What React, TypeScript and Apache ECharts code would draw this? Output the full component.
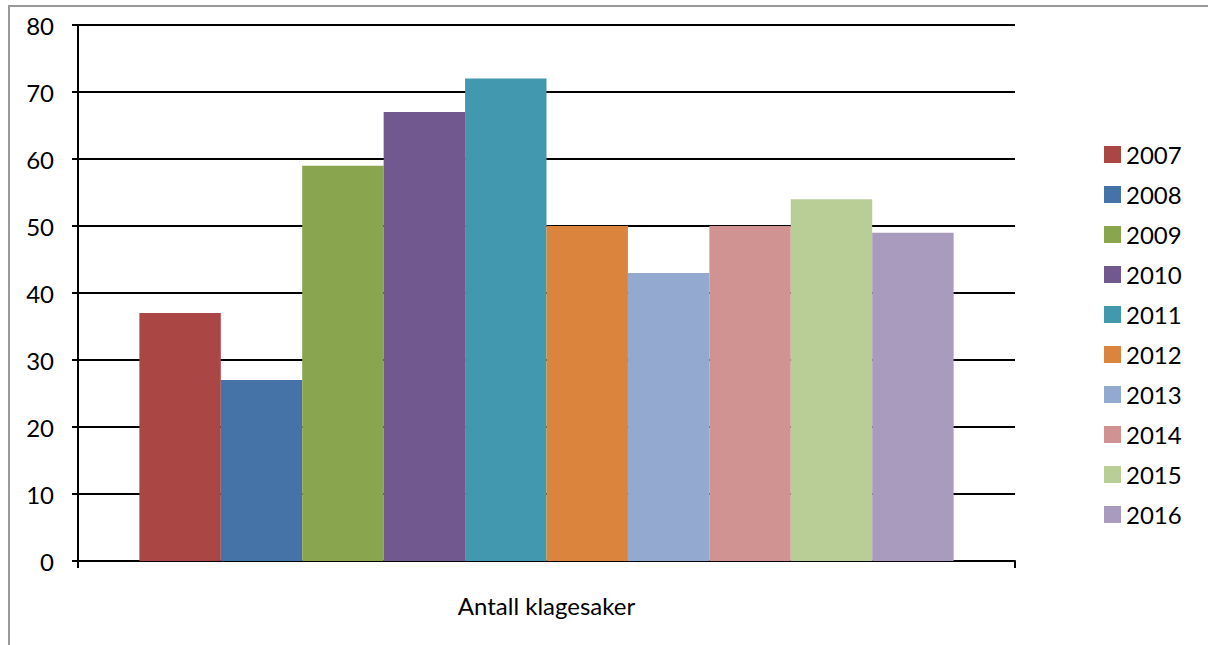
import React, { useEffect, useRef } from "react";
import * as echarts from "echarts";

const categories = ["Antall klagesaker"];
const years = ["2007", "2008", "2009", "2010", "2011", "2012", "2013", "2014", "2015", "2016"];
const values = [37, 27, 59, 67, 72, 50, 43, 50, 54, 49];
const colors = ["#AA4643", "#4572A7", "#89A54E", "#71588F", "#4198AF", "#DB843D", "#93A9CF", "#D19392", "#B9CD96", "#A99BBD"];
const yTicks = { min: 0, max: 80, interval: 10 };

const FONT = "Lato, 'Open Sans', sans-serif";

export default function App() {
  const ref = useRef<HTMLDivElement>(null);
  useEffect(() => {
    if (!ref.current) return;
    const chart = echarts.init(ref.current, undefined, { renderer: "svg" });
    chart.setOption({
      animation: false,
      backgroundColor: "#ffffff",
      textStyle: { fontFamily: FONT },
      graphic: [
        {
          type: "rect",
          shape: { x: 9, y: 6, width: 1400, height: 900 },
          style: { fill: "none", stroke: "#999999", lineWidth: 2 },
          silent: true,
        },
      ],
      grid: { left: 78, top: 25, right: 193, bottom: 84, containLabel: false },
      legend: {
        orient: "vertical",
        left: 1099,
        top: 137.5,
        itemWidth: 17,
        itemHeight: 17,
        itemGap: 16,
        icon: "rect",
        data: years,
        textStyle: { fontSize: 24, color: "#000", fontFamily: FONT, lineHeight: 24 },
      },
      xAxis: {
        type: "category",
        data: categories,
        boundaryGap: true,
        axisLine: { show: true, lineStyle: { color: "#000", width: 2 } },
        axisTick: { show: true, length: 7, interval: 0, lineStyle: { color: "#000", width: 2 } },
        axisLabel: { fontSize: 24, color: "#000", margin: 32, fontFamily: FONT },
        splitLine: { show: false },
      },
      yAxis: {
        type: "value",
        min: yTicks.min,
        max: yTicks.max,
        interval: yTicks.interval,
        axisLine: { show: true, lineStyle: { color: "#000", width: 2 } },
        axisTick: { show: true, length: 6, lineStyle: { color: "#000", width: 2 } },
        axisLabel: { fontSize: 24, color: "#000", margin: 24, fontFamily: FONT },
        splitLine: { show: true, lineStyle: { color: "#000", width: 2 } },
      },
      series: years.map((y, i) => ({
        name: y,
        type: "bar",
        barGap: "0%",
        barCategoryGap: "13.1%",
        itemStyle: { color: colors[i] },
        data: [values[i]],
      })),
    });
    return () => chart.dispose();
  }, []);
  return (
    <div
      ref={ref}
      style={{ position: "absolute", left: 0, top: 0, width: 1208, height: 645 }}
    />
  );
}
